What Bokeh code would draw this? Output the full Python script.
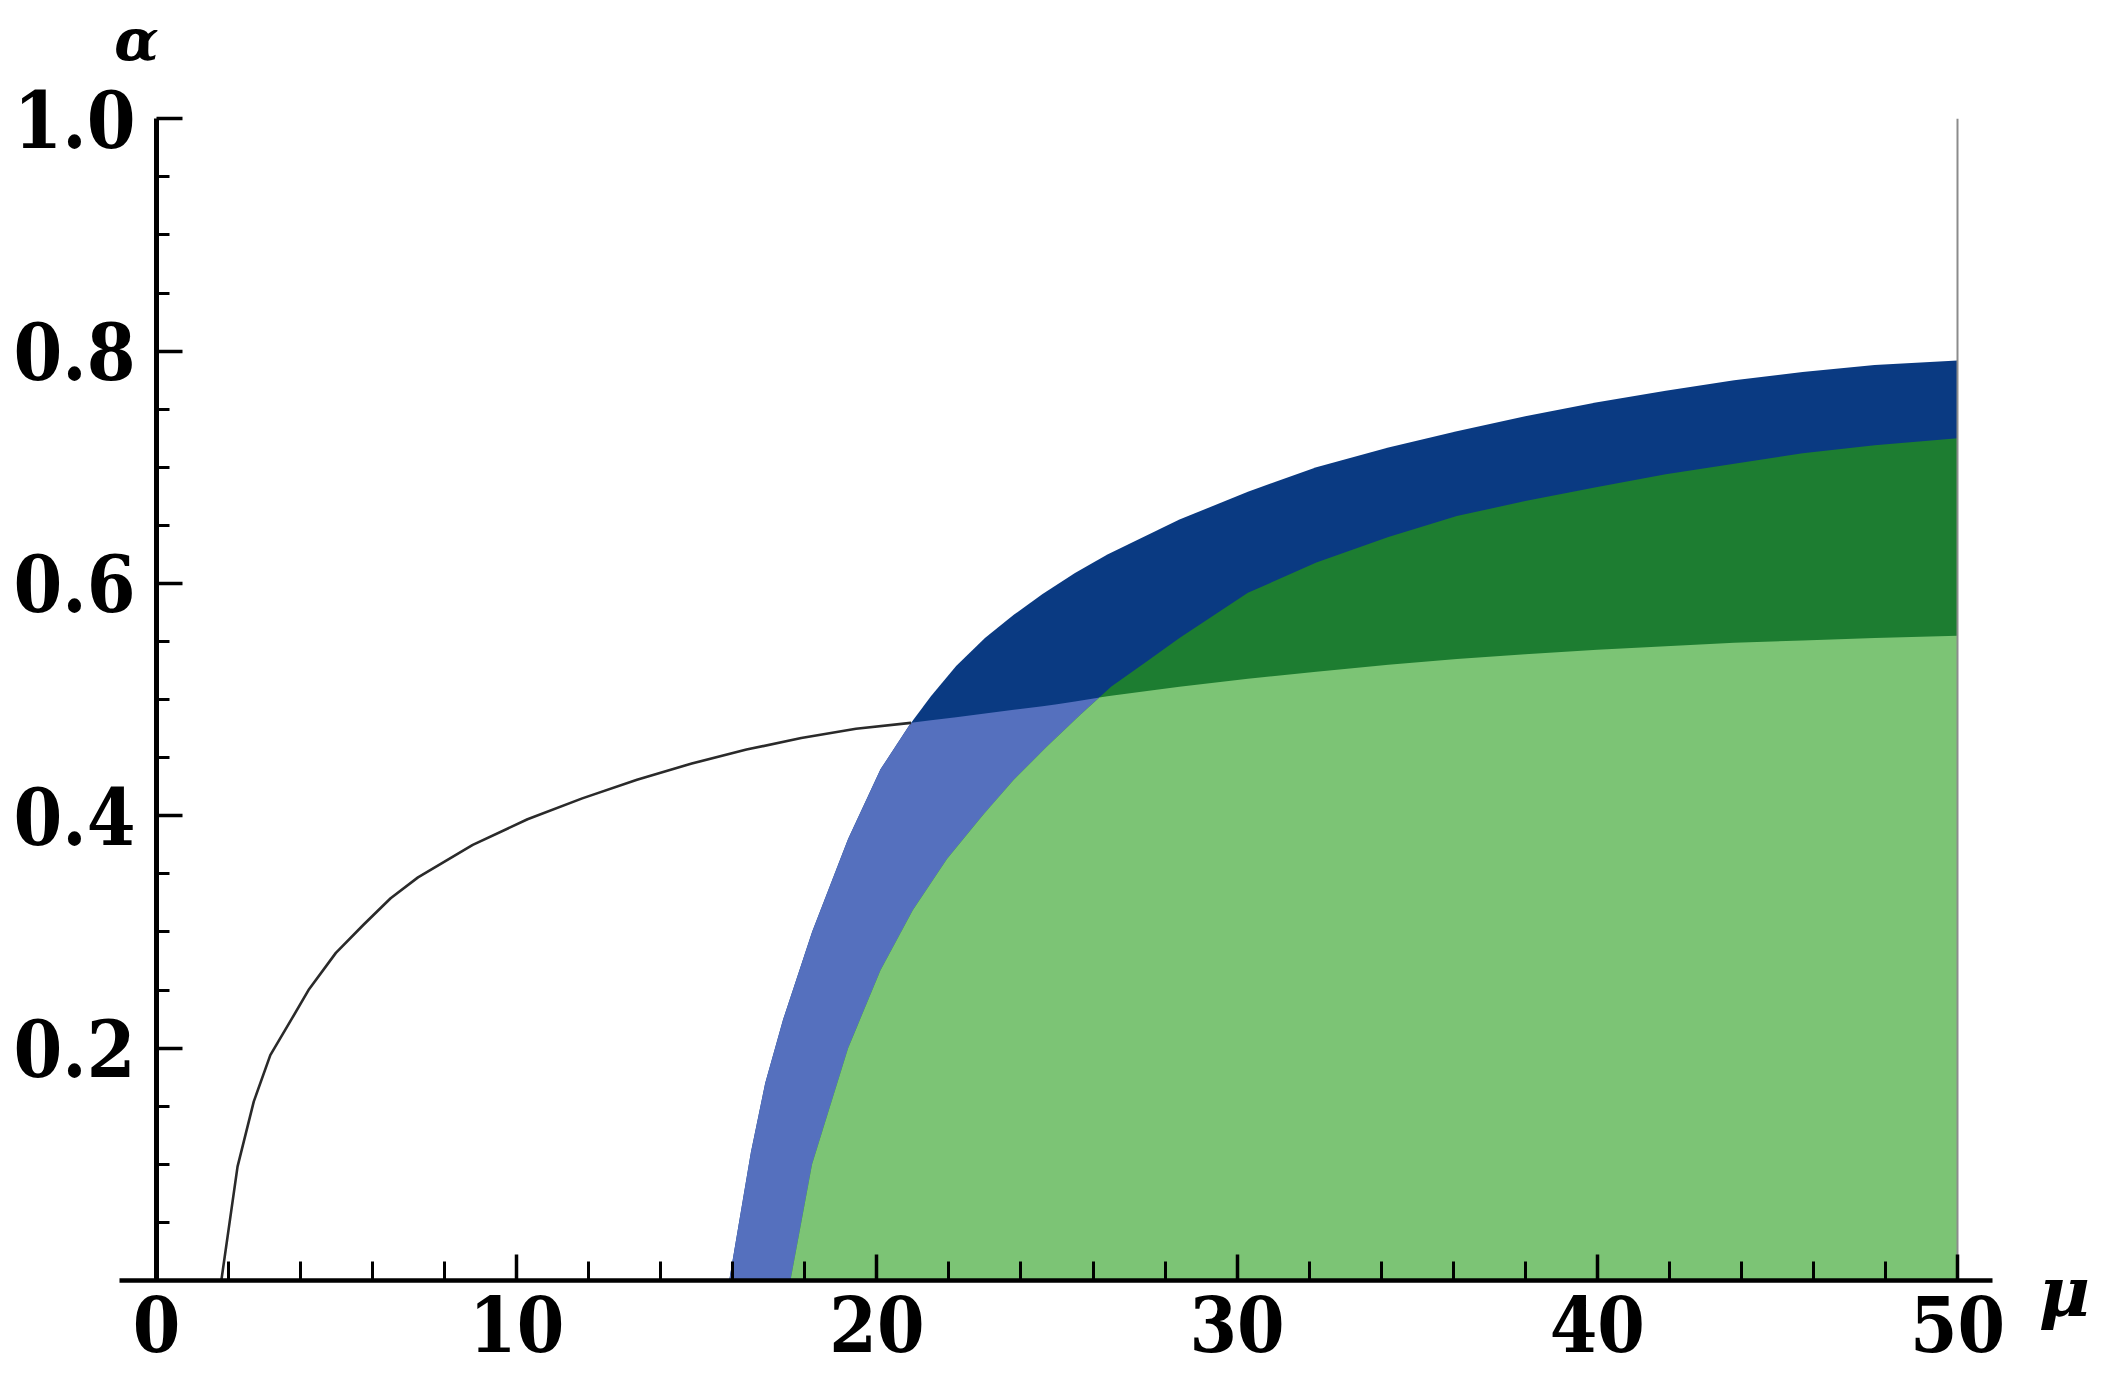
import numpy as np
from bokeh.plotting import figure
from bokeh.models import Range1d, LinearAxis, FixedTicker, Label, NumeralTickFormatter, BasicTickFormatter
from bokeh.embed import file_html
from bokeh.resources import INLINE

# ---------------- data ----------------
# outer boundary (left / upper edge of the blue band)
OUTER_MU = [15.9, 16.5, 16.9, 17.4, 18.2, 19.2, 20.1, 20.9, 21.5, 22.2, 23.0, 23.8, 24.6,
            25.5, 26.4, 28.4, 30.3, 32.2, 34.2, 36.1, 38.0, 40.0, 41.9, 43.8, 45.7, 47.7, 50.0]
OUTER_ALPHA = [0.0, 0.11, 0.17, 0.225, 0.30, 0.38, 0.44, 0.478, 0.503, 0.529, 0.553, 0.573, 0.591,
               0.609, 0.625, 0.655, 0.679, 0.700, 0.717, 0.731, 0.744, 0.756, 0.766, 0.775,
               0.782, 0.788, 0.792]

# inner boundary (left / upper edge of the green region)
INNER_MU = [17.6, 18.2, 19.2, 20.1, 21.0, 21.95, 22.9, 23.8, 24.7, 25.65, 26.5, 27.5,
            28.4, 30.3, 32.2, 34.2, 36.1, 38.0, 40.0, 41.9, 43.8, 45.7, 47.7, 50.0]
INNER_ALPHA = [0.0, 0.10, 0.20, 0.267, 0.319, 0.363, 0.399, 0.431, 0.459, 0.487, 0.511, 0.533,
               0.553, 0.592, 0.618, 0.640, 0.658, 0.671, 0.683, 0.694, 0.703, 0.712, 0.719, 0.725]

# threshold curve (thin black curve, continued as the dark/light colour boundary)
THRESH_MU = [1.8, 2.25, 2.7, 3.16, 3.77, 4.22, 4.98, 5.74, 6.5, 7.26, 8.78, 10.3, 11.82,
             13.34, 14.86, 16.38, 17.9, 19.42, 20.94, 23.0, 25.0, 26.4, 28.4, 30.3, 32.2,
             34.2, 36.1, 38.0, 40.0, 41.9, 43.8, 45.7, 47.7, 50.0]
THRESH_ALPHA = [0.0, 0.098, 0.154, 0.194, 0.226, 0.250, 0.282, 0.306, 0.329, 0.347, 0.375,
                0.397, 0.415, 0.431, 0.445, 0.457, 0.467, 0.475, 0.480, 0.488, 0.496, 0.503,
                0.511, 0.518, 0.524, 0.530, 0.535, 0.539, 0.543, 0.546, 0.549, 0.551, 0.553, 0.555]

X_TICKS = [0, 10, 20, 30, 40, 50]
X_TICK_LABELS = ["0", "10", "20", "30", "40", "50"]
X_MINOR = [2, 4, 6, 8, 12, 14, 16, 18, 22, 24, 26, 28, 32, 34, 36, 38, 42, 44, 46, 48]
Y_TICKS = [0.2, 0.4, 0.6, 0.8, 1.0]
Y_TICK_LABELS = ["0.2", "0.4", "0.6", "0.8", "1.0"]
Y_MINOR = [0.05, 0.1, 0.15, 0.25, 0.3, 0.35, 0.45, 0.5, 0.55, 0.65, 0.7, 0.75, 0.85, 0.9, 0.95]

X_NAME = "μ"
Y_NAME = "α"

# ---------------- colours ----------------
NAVY = "#0a3a82"
LIGHT_BLUE = "#5570be"
DARK_GREEN = "#1d7d31"
LIGHT_GREEN = "#7cc475"


def envelope_under(xa, ya, xb, yb):
    """min(a, b) over the domain of curve a, with exact crossings inserted."""
    xa = np.asarray(xa, float); ya = np.asarray(ya, float)
    xb = np.asarray(xb, float); yb = np.asarray(yb, float)
    xs = np.union1d(xa, xb[(xb >= xa[0]) & (xb <= xa[-1])])
    fa = np.interp(xs, xa, ya)
    fb = np.interp(xs, xb, yb)
    d = fa - fb
    ox, oy, cross = [], [], []
    for i in range(len(xs)):
        if i > 0 and d[i - 1] * d[i] < 0:
            t = d[i - 1] / (d[i - 1] - d[i])
            xc = xs[i - 1] + t * (xs[i] - xs[i - 1])
            yc = fa[i - 1] + t * (fa[i] - fa[i - 1])
            ox.append(xc); oy.append(yc); cross.append((xc, yc))
        ox.append(xs[i]); oy.append(min(fa[i], fb[i]))
    return ox, oy, cross


W, H = 2105, 1385
p = figure(width=W, height=H,
           x_range=Range1d(-4.3309, 54.109), y_range=Range1d(-0.09039, 1.10183),
           output_backend="svg", toolbar_location=None,
           x_axis_location=None, y_axis_location=None,
           min_border=0, min_border_left=0, min_border_right=0,
           min_border_top=0, min_border_bottom=0,
           background_fill_color="white", border_fill_color="white",
           outline_line_color=None)
p.xgrid.visible = False
p.ygrid.visible = False

# dark navy: everything under the outer boundary
p.varea(x=OUTER_MU, y1=0, y2=OUTER_ALPHA, fill_color=NAVY)
# light blue: under outer boundary and under threshold
lb_x, lb_y, lb_cross = envelope_under(OUTER_MU, OUTER_ALPHA, THRESH_MU, THRESH_ALPHA)
p.varea(x=lb_x, y1=0, y2=lb_y, fill_color=LIGHT_BLUE)
# dark green: under inner boundary
p.varea(x=INNER_MU, y1=0, y2=INNER_ALPHA, fill_color=DARK_GREEN)
# light green: under inner boundary and under threshold
lg_x, lg_y, _ = envelope_under(INNER_MU, INNER_ALPHA, THRESH_MU, THRESH_ALPHA)
p.varea(x=lg_x, y1=0, y2=lg_y, fill_color=LIGHT_GREEN)

# thin black curve up to where it meets the blue band
xc, yc = lb_cross[0]
tm = np.asarray(THRESH_MU); ta = np.asarray(THRESH_ALPHA)
keep = tm < xc
p.line(x=list(tm[keep]) + [xc], y=list(ta[keep]) + [yc], line_color="#2a2a2a",
       line_width=2.6, line_join="round")

# right edge of the region
p.line(x=[X_TICKS[-1], X_TICKS[-1]], y=[0, Y_TICKS[-1]], line_color="#8c8c8c", line_width=2)

tick_font = "DejaVu Serif Condensed, DejaVu Serif"
xaxis = LinearAxis(fixed_location=0, bounds=(-1.03, 50.97),
                   ticker=FixedTicker(ticks=X_TICKS, minor_ticks=X_MINOR),
                   formatter=BasicTickFormatter(),
                   major_label_overrides={t: s for t, s in zip(X_TICKS, X_TICK_LABELS)},
                   axis_line_width=4.5, axis_line_color="black",
                   major_tick_in=26, major_tick_out=0, major_tick_line_width=3.5,
                   minor_tick_in=19, minor_tick_out=0, minor_tick_line_width=3,
                   major_label_standoff=16,
                   major_label_text_font=tick_font, major_label_text_font_style="bold",
                   major_label_text_font_size="76px", major_label_text_color="black")
p.add_layout(xaxis, "below")

yaxis = LinearAxis(fixed_location=0, bounds=(0, 1),
                   ticker=FixedTicker(ticks=Y_TICKS, minor_ticks=Y_MINOR),
                   formatter=NumeralTickFormatter(format="0.0"),
                   axis_line_width=5, axis_line_color="black",
                   major_tick_in=26, major_tick_out=0, major_tick_line_width=3.5,
                   minor_tick_in=13, minor_tick_out=0, minor_tick_line_width=3,
                   major_label_standoff=21,
                   major_label_text_font=tick_font, major_label_text_font_style="bold",
                   major_label_text_font_size="78px", major_label_text_color="black")
p.add_layout(yaxis, "left")

label_font = "DejaVu Serif"
p.add_layout(Label(x=-0.55, y=1.0675, text=Y_NAME, x_units="data", y_units="data",
                   text_font=label_font, text_font_style="bold italic", text_font_size="58px",
                   text_align="center", text_baseline="alphabetic", text_color="black"))
p.add_layout(Label(x=52.97, y=-0.0099, text=X_NAME, x_units="data", y_units="data",
                   text_font=label_font, text_font_style="bold italic", text_font_size="70px",
                   text_align="center", text_baseline="alphabetic", text_color="black"))

open("out.html", "w").write(file_html(p, INLINE))
